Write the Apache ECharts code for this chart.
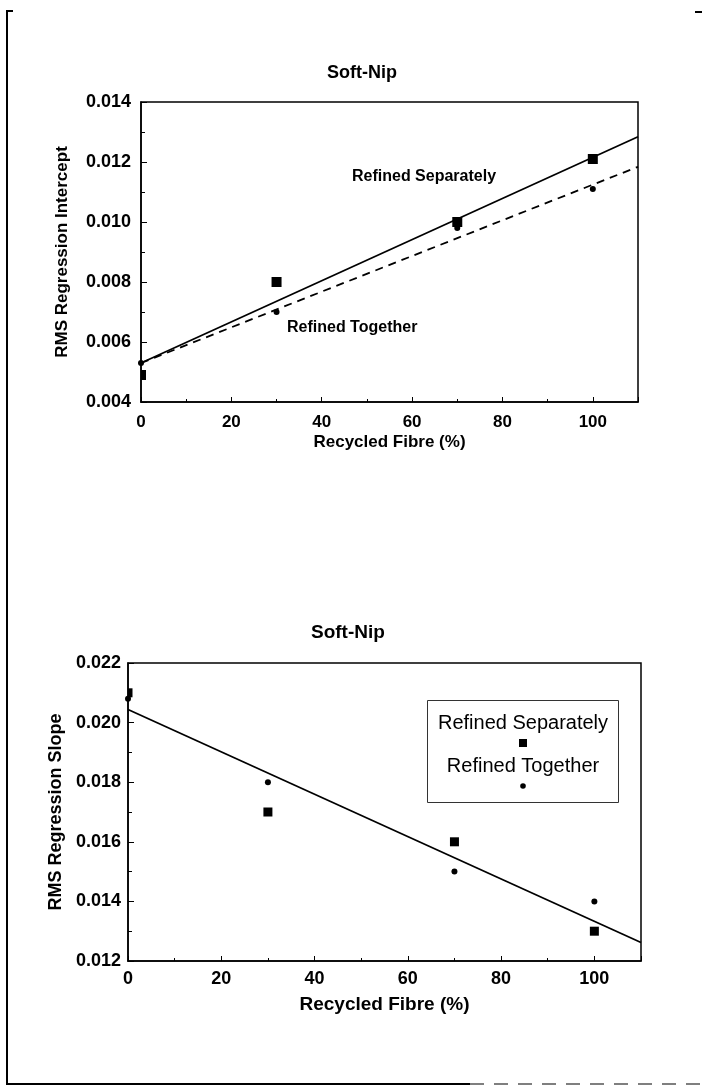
<!DOCTYPE html>
<html>
<head>
<meta charset="utf-8">
<script src="https://cdn.jsdelivr.net/npm/echarts@6/dist/echarts.min.js"></script>
<style>
  html, body { margin: 0; padding: 0; background: #ffffff; }
  #chart { width: 702px; height: 1088px; }
</style>
</head>
<body>
<div id="chart"></div>
<script>
// ---- data ----
const recycledFibre = [0, 30, 70, 100];
const xTickLabels = ['0', '20', '40', '60', '80', '100'];

// Upper panel: RMS regression intercept
const interceptSeparately = [0.0049, 0.0080, 0.0100, 0.0121];
const interceptTogether   = [0.0053, 0.0070, 0.0098, 0.0111];
const fitX = [0, 110];
const interceptFitSeparately = [0.0053, 0.01284];
const interceptFitTogether   = [0.0053, 0.01184];

// Lower panel: RMS regression slope
const slopeSeparately = [0.0210, 0.0170, 0.0160, 0.0130];
const slopeTogether   = [0.0208, 0.0180, 0.0150, 0.0140];
const slopeFit        = [0.02044, 0.01262];

const interceptTicks = ['0.004', '0.006', '0.008', '0.010', '0.012', '0.014'];
const slopeTicks     = ['0.012', '0.014', '0.016', '0.018', '0.020', '0.022'];

// ---- helpers ----
const FONT = '"Liberation Sans", Arial, Helvetica, sans-serif';
const INK = '#000000';
const pairs = (xs, ys) => xs.map((x, i) => [x, ys[i]]);

function squareSeries(name, xIdx, yIdx, data, size) {
  return {
    name: name,
    type: 'custom',
    xAxisIndex: xIdx,
    yAxisIndex: yIdx,
    z: 5,
    data: data,
    renderItem: function (params, api) {
      const p = api.coord([api.value(0), api.value(1)]);
      const cs = params.coordSys;
      const r = echarts.graphic.clipRectByRect(
        { x: p[0] - size / 2, y: p[1] - size / 2, width: size, height: size },
        { x: cs.x, y: cs.y, width: cs.width, height: cs.height }
      );
      if (!r) return null;
      return { type: 'rect', shape: r, style: { fill: INK } };
    }
  };
}

function xAxisCfg(gridIndex, fontSize, margin, nameSize, nameGap) {
  return {
    type: 'value', gridIndex: gridIndex,
    min: 0, max: 110, interval: 20,
    name: 'Recycled Fibre (%)', nameLocation: 'middle', nameGap: nameGap,
    nameTextStyle: { fontFamily: FONT, fontWeight: 'bold', fontSize: nameSize, color: INK },
    axisLine: { show: true, lineStyle: { color: INK, width: 1.5 } },
    axisTick: { show: true, inside: true, length: 5, lineStyle: { color: INK, width: 1 } },
    minorTick: { show: true, splitNumber: 2, length: 3, lineStyle: { color: INK, width: 1 } },
    splitLine: { show: false },
    axisLabel: {
      margin: margin, fontFamily: FONT, fontWeight: 'bold', fontSize: fontSize, color: INK,
      formatter: function (v) {
        const idx = xTickLabels.indexOf(String(Math.round(v)));
        return idx >= 0 ? xTickLabels[idx] : '';
      }
    }
  };
}

function yAxisCfg(gridIndex, min, max, ticks, name, fontSize, margin, nameSize, nameGap) {
  return {
    type: 'value', gridIndex: gridIndex,
    min: min, max: max, interval: 0.002,
    name: name, nameLocation: 'middle', nameGap: nameGap, nameRotate: 90,
    nameTextStyle: { fontFamily: FONT, fontWeight: 'bold', fontSize: nameSize, color: INK },
    axisLine: { show: true, lineStyle: { color: INK, width: 1.5 } },
    axisTick: { show: true, inside: true, length: 6, lineStyle: { color: INK, width: 1 } },
    minorTick: { show: true, splitNumber: 2, length: 4, lineStyle: { color: INK, width: 1 } },
    splitLine: { show: false },
    axisLabel: {
      margin: margin, fontFamily: FONT, fontWeight: 'bold', fontSize: fontSize, color: INK,
      formatter: function (v) {
        const s = v.toFixed(3);
        return ticks.indexOf(s) >= 0 ? s : '';
      }
    }
  };
}

const chart = echarts.init(document.getElementById('chart'), null, { renderer: 'canvas' });

const option = {
  backgroundColor: '#ffffff',
  animation: false,
  title: [
    { text: 'Soft-Nip', left: 327, top: 64, padding: 0,
      textStyle: { fontFamily: FONT, fontWeight: 'bold', fontSize: 18, color: INK } },
    { text: 'Soft-Nip', left: 311, top: 623, padding: 0,
      textStyle: { fontFamily: FONT, fontWeight: 'bold', fontSize: 19, color: INK } }
  ],
  grid: [
    { left: 141, top: 102, width: 497, height: 300, show: true, borderColor: INK, borderWidth: 1.5, backgroundColor: 'transparent' },
    { left: 128, top: 663, width: 513, height: 298, show: true, borderColor: INK, borderWidth: 1.5, backgroundColor: 'transparent' }
  ],
  xAxis: [
    xAxisCfg(0, 17, 12, 17, 32),
    xAxisCfg(1, 18, 9, 19, 34)
  ],
  yAxis: [
    yAxisCfg(0, 0.004, 0.014, interceptTicks, 'RMS Regression Intercept', 18, 10, 17, 70),
    yAxisCfg(1, 0.012, 0.022, slopeTicks, 'RMS Regression Slope', 18, 7, 18, 60)
  ],
  series: [
    { name: 'Fit Separately', type: 'line', xAxisIndex: 0, yAxisIndex: 0,
      data: pairs(fitX, interceptFitSeparately), symbol: 'none', z: 3,
      lineStyle: { color: INK, width: 1.8, type: 'solid' } },
    { name: 'Fit Together', type: 'line', xAxisIndex: 0, yAxisIndex: 0,
      data: pairs(fitX, interceptFitTogether), symbol: 'none', z: 3,
      lineStyle: { color: INK, width: 1.8, type: [8, 6] } },
    squareSeries('Refined Separately', 0, 0, pairs(recycledFibre, interceptSeparately), 10),
    { name: 'Refined Together', type: 'scatter', xAxisIndex: 0, yAxisIndex: 0,
      data: pairs(recycledFibre, interceptTogether), symbol: 'circle', symbolSize: 6, z: 5,
      itemStyle: { color: INK, opacity: 1 } },

    { name: 'Slope Fit', type: 'line', xAxisIndex: 1, yAxisIndex: 1,
      data: pairs(fitX, slopeFit), symbol: 'none', z: 3,
      lineStyle: { color: INK, width: 1.8, type: 'solid' } },
    squareSeries('Refined Separately', 1, 1, pairs(recycledFibre, slopeSeparately), 9),
    { name: 'Refined Together', type: 'scatter', xAxisIndex: 1, yAxisIndex: 1,
      data: pairs(recycledFibre, slopeTogether), symbol: 'circle', symbolSize: 6, z: 5,
      itemStyle: { color: INK, opacity: 1 } }
  ],
  graphic: [
    // annotations in the upper panel
    { type: 'text', left: 352, top: 169, z: 10,
      style: { text: 'Refined Separately', font: 'bold 16px ' + FONT, fill: INK } },
    { type: 'text', left: 287, top: 320, z: 10,
      style: { text: 'Refined Together', font: 'bold 16px ' + FONT, fill: INK } },

    // legend box in the lower panel
    { type: 'rect', shape: { x: 427.5, y: 700.5, width: 191, height: 102 }, z: 10,
      style: { fill: '#ffffff', stroke: '#333333', lineWidth: 1 } },
    { type: 'text', x: 523, y: 723, z: 11,
      style: { text: 'Refined Separately', font: '20px ' + FONT, fill: INK, align: 'center', verticalAlign: 'middle' } },
    { type: 'rect', shape: { x: 519, y: 739, width: 8, height: 8 }, z: 11, style: { fill: INK } },
    { type: 'text', x: 523, y: 766, z: 11,
      style: { text: 'Refined Together', font: '20px ' + FONT, fill: INK, align: 'center', verticalAlign: 'middle' } },
    { type: 'circle', shape: { cx: 523, cy: 786, r: 2.8 }, z: 11, style: { fill: INK } },

    // scanned page frame
    { type: 'polyline', shape: { points: [[13, 11], [7, 11], [7, 1084], [470, 1084]] }, z: 1,
      style: { stroke: INK, lineWidth: 2, fill: null } },
    { type: 'line', shape: { x1: 470, y1: 1084, x2: 702, y2: 1084 }, z: 1,
      style: { stroke: '#555555', lineWidth: 1.5, lineDash: [14, 10] } },
    { type: 'line', shape: { x1: 695, y1: 12, x2: 702, y2: 12 }, z: 1,
      style: { stroke: INK, lineWidth: 2 } }
  ]
};

chart.setOption(option);
</script>
</body>
</html>
